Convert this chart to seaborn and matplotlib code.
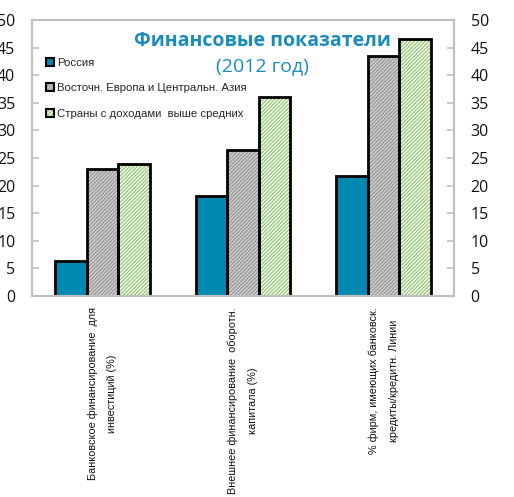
import matplotlib
matplotlib.use("Agg")
import matplotlib.pyplot as plt
import matplotlib.patches as mpatches
from matplotlib.legend_handler import HandlerTuple
import seaborn as sns
import pandas as pd

categories = ["Банковское финансирование  для\nинвестиций (%)",
              "Внешнее финансирование  оборотн.\nкапитала (%)",
              "% фирм, имеющих банковск.\nкредиты/кредитн. Линии"]
series_names = ["Россия", "Восточн. Европа и Центральн. Азия", "Страны с доходами  выше средних"]
russia = [6.3, 18.2, 21.8]
eca = [23.0, 26.5, 43.5]
umic = [23.9, 36.1, 46.5]
yticks = [0, 5, 10, 15, 20, 25, 30, 35, 40, 45, 50]

face_colors = ["#0089b0", "#cfcfcf", "#ffffff"]
hatch_colors = [None, "#9a9a9a", "#8cc86a"]
HATCH = "/////////"

sns.set_style("white")
plt.rcParams["hatch.linewidth"] = 0.9

rows = []
for name, vals in zip(series_names, [russia, eca, umic]):
    for c, v in zip(categories, vals):
        rows.append({"cat": c, "val": v, "series": name})
df = pd.DataFrame(rows)

fig = plt.figure(figsize=(5.14, 4.97), dpi=100)
ax = fig.add_axes([32 / 514, 1 - 296 / 497, 422 / 514, 276 / 497])

# fill layer
sns.barplot(data=df, x="cat", y="val", hue="series", hue_order=series_names,
            palette=face_colors, width=0.675, saturation=1, legend=False, ax=ax, errorbar=None)
for i, cont in enumerate(ax.containers):
    for p in cont:
        p.set_facecolor(face_colors[i])
        if hatch_colors[i]:
            p.set_hatch(HATCH)
            p.set_edgecolor(hatch_colors[i])
        p.set_linewidth(0)
n_fill = len(ax.containers)
# outline layer
sns.barplot(data=df, x="cat", y="val", hue="series", hue_order=series_names,
            palette=face_colors, width=0.675, saturation=1, legend=False, ax=ax, errorbar=None)
for cont in ax.containers[n_fill:]:
    for p in cont:
        p.set_facecolor("none")
        p.set_edgecolor("black")
        p.set_linewidth(2.0)

ax.set_xlim(-0.5, 2.5)
ax.set_ylim(0, 50)
ax.set_yticks(yticks)
ax.set_yticklabels([str(t) for t in yticks])
ax.set_xlabel("")
ax.set_ylabel("")
ax.set_xticks([0, 1, 2])
ax.set_xticklabels(categories, rotation=90, fontsize=7.8, family="Liberation Sans",
                   linespacing=2.2, color="#111111")
ax.set_xticks([0.5, 1.5], minor=True)
ax.tick_params(axis="x", which="major", length=0, pad=8)
ax.tick_params(axis="x", which="minor", direction="in", length=4, color="#c0c0c0", width=1.2)
ax.tick_params(axis="y", direction="in", length=5, color="#c0c0c0", width=1.2, pad=12,
               labelsize=11.5, labelcolor="#111111")
for lab in ax.get_yticklabels():
    lab.set_family("Open Sans")
for s in ax.spines.values():
    s.set_color("#c0c0c0")
    s.set_linewidth(1.5)

ax2 = ax.twinx()
ax2.set_ylim(0, 50)
ax2.set_yticks(yticks)
ax2.set_yticklabels([str(t) for t in yticks])
ax2.tick_params(axis="y", direction="in", length=5, color="#c0c0c0", width=1.2, pad=12,
                labelsize=11.5, labelcolor="#111111")
for lab in ax2.get_yticklabels():
    lab.set_family("Open Sans")
for s in ax2.spines.values():
    s.set_color("#c0c0c0")
    s.set_linewidth(1.5)

ax.text(0.545, 0.925, "Финансовые показатели", transform=ax.transAxes, ha="center", va="center",
        fontsize=14, fontweight="bold", color="#1a8bbd", family="Open Sans")
ax.text(0.545, 0.833, "(2012 год)", transform=ax.transAxes, ha="center", va="center",
        fontsize=14, color="#1a8bbd", family="Open Sans")

handles = []
for i, name in enumerate(series_names):
    fill = mpatches.Patch(facecolor=face_colors[i],
                          edgecolor=hatch_colors[i] if hatch_colors[i] else face_colors[i],
                          linewidth=0, hatch=HATCH if hatch_colors[i] else None)
    edge = mpatches.Patch(facecolor="none", edgecolor="black", linewidth=1.5)
    handles.append((fill, edge))
leg = ax.legend(handles=handles, labels=series_names, handler_map={tuple: HandlerTuple(ndivide=1)},
                loc="upper left", bbox_to_anchor=(14 / 422, (296 - 58) / 276),
                frameon=False, prop={"family": "Liberation Sans", "size": 8.2},
                handlelength=0.7, handleheight=0.7, handletextpad=0.3, labelspacing=1.35,
                borderpad=0, borderaxespad=0)

fig.savefig("out.png", dpi=100)
